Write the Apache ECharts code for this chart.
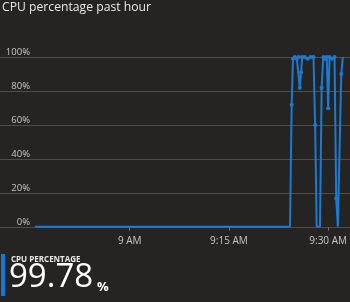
<!DOCTYPE html>
<html><head><meta charset="utf-8">
<script src="https://cdn.jsdelivr.net/npm/echarts@6/dist/echarts.min.js"></script>
<style>html,body{margin:0;padding:0;background:#252423;}#c{width:350px;height:302px;}</style>
</head><body><div id="c"></div>
<script>
const title = "CPU percentage past hour";
const yTicks = [0, 20, 40, 60, 80, 100];
const xTickLabels = ["9 AM", "9:15 AM", "9:30 AM"];
const times = [
 "8:45:40","8:46:40","8:47:40","8:48:40","8:49:40","8:50:40","8:51:40","8:52:40","8:53:40","8:54:40",
 "8:55:40","8:56:40","8:57:40","8:58:40","8:59:40","9:00:40","9:01:40","9:02:40","9:03:40","9:04:40",
 "9:05:40","9:06:40","9:07:40","9:08:40","9:09:40","9:10:40","9:11:40","9:12:40","9:13:40","9:14:40",
 "9:15:40","9:16:40","9:17:40","9:18:40","9:19:40","9:20:40","9:21:40","9:22:40","9:23:40","9:24:14",
 "9:24:29","9:24:41","9:24:58","9:25:16","9:25:34","9:25:43","9:25:54","9:26:05","9:26:27","9:26:54",
 "9:27:20","9:27:47","9:28:02","9:28:16","9:28:46","9:29:01","9:29:16","9:29:33","9:29:47","9:30:00",
 "9:30:13","9:30:35","9:30:58","9:31:13","9:31:28","9:31:46","9:31:59","9:32:13"
];
const cpu = [
 0.5,0.5,0.5,0.5,0.5,0.5,0.5,0.5,0.5,0.5,
 0.5,0.5,0.5,0.5,0.5,0.5,0.5,0.5,0.5,0.5,
 0.5,0.5,0.5,0.5,0.5,0.5,0.5,0.5,0.5,0.5,
 0.5,0.5,0.5,0.5,0.5,0.5,0.5,0.5,0.5,0.5,
 72,99,100,99,100,82,91,100,100,99,
 100,100,60,0.5,0.5,82,100,99,100,70,
 100,99,100,17,0.5,0.5,90,100
];
const currentValue = "99.78";
const currentLabel = "CPU PERCENTAGE";

function toMin(s){const p=s.split(":").map(Number);return (p[0]-8)*60+p[1]+p[2]/60;}
const data = times.map((t,i)=>[toMin(t), cpu[i]]);
const fmtX = v => { const h = 8 + Math.floor(v/60); const m = Math.round(v%60); return m===0 ? h+" AM" : h+":"+String(m).padStart(2,"0")+" AM"; };

const chart = echarts.init(document.getElementById('c'), null, {renderer:'canvas'});
const gridTop = 57, gridH = 170.5;
chart.setOption({
  backgroundColor:'#252423',
  animation:false,
  title:{text:title,left:2,top:2,padding:0,textStyle:{color:'#e8e8e8',fontSize:12.2,fontWeight:'normal',fontFamily:'"Open Sans", sans-serif'}},
  grid:[
    {left:30.5,right:0,top:gridTop,height:gridH},
    {left:0,right:0,top:gridTop,height:gridH}
  ],
  xAxis:[
    {type:'value',gridIndex:0,min:45,max:92.2,interval:15,
     axisLine:{show:false},axisTick:{show:true,length:3,lineStyle:{color:'#777'}},splitLine:{show:false},
     axisLabel:{showMinLabel:false,showMaxLabel:false,color:'#c8c8c8',fontSize:10,margin:9,fontFamily:'"Open Sans", sans-serif',formatter:fmtX}},
    {type:'value',gridIndex:1,min:0,max:1,show:false}
  ],
  yAxis:[
    {type:'value',gridIndex:0,min:0,max:100,interval:20,show:false},
    {type:'value',gridIndex:1,min:0,max:100,interval:20,
     axisLine:{show:false},axisTick:{show:false},
     splitLine:{show:true,lineStyle:{color:'#4d4d4d',width:1}},
     axisLabel:{inside:true,align:'right',margin:30,verticalAlign:'bottom',padding:[0,0,0,0],
       color:'#c8c8c8',fontSize:9.5,fontFamily:'"Open Sans", sans-serif',formatter:v=>v+'%'}}
  ],
  series:[{type:'line',xAxisIndex:0,yAxisIndex:0,data:data,
    showSymbol:true,symbol:'circle',
    symbolSize:(v)=> v[1] < 1 ? 0 : 4,
    lineStyle:{color:'#1b7bd3',width:2},itemStyle:{color:'#1b7bd3'}}],
  graphic:[
    {type:'rect',left:1,top:254,shape:{width:4,height:42},style:{fill:'#1279d6'}},
    {type:'text',left:11,top:256,style:{text:currentLabel,fill:'#e8e8e8',font:'bold 8px "Open Sans", sans-serif'}},
    {type:'text',left:9,top:261,style:{text:currentValue,fill:'#ffffff',font:'33px "Open Sans", sans-serif'}},
    {type:'text',left:97,top:281,style:{text:'%',fill:'#ffffff',font:'bold 13px "Open Sans", sans-serif'}}
  ]
});
</script></body></html>
